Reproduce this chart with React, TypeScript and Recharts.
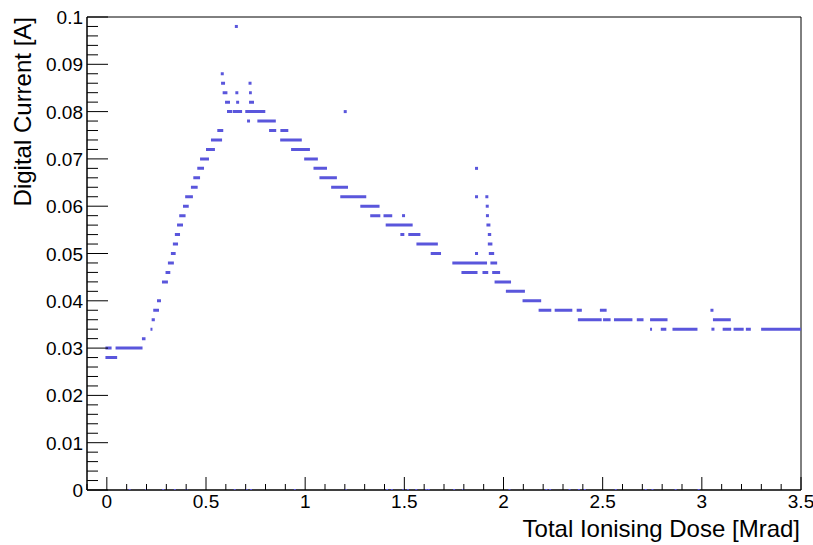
import { ComposedChart, Line, ReferenceArea, Scatter, XAxis, YAxis } from 'recharts'

// horizontal runs of equal readings: [dose from, dose to, current]
const runs: [number, number, number][] = [
  [-0.007, 0.052, 0.028],
  [-0.007, 0.024, 0.03], [0.044, 0.18, 0.03],
  [0.177, 0.195, 0.032],
  [0.22, 0.23, 0.034],
  [0.226, 0.242, 0.036],
  [0.234, 0.263, 0.038],
  [0.253, 0.273, 0.04],
  [0.278, 0.308, 0.044],
  [0.296, 0.32, 0.046],
  [0.308, 0.338, 0.048],
  [0.323, 0.347, 0.05],
  [0.333, 0.359, 0.052],
  [0.343, 0.369, 0.054],
  [0.354, 0.384, 0.056],
  [0.365, 0.397, 0.058],
  [0.384, 0.413, 0.06],
  [0.395, 0.434, 0.062],
  [0.424, 0.458, 0.064],
  [0.436, 0.47, 0.066],
  [0.456, 0.49, 0.068],
  [0.47, 0.515, 0.07],
  [0.5, 0.545, 0.072],
  [0.525, 0.581, 0.074],
  [0.557, 0.587, 0.076],
  [0.576, 0.596, 0.086],
  [0.584, 0.608, 0.084],
  [0.596, 0.621, 0.082],
  [0.606, 0.633, 0.08], [0.636, 0.682, 0.08],
  [0.648, 0.663, 0.084],
  [0.652, 0.667, 0.082],
  [0.698, 0.799, 0.08],
  [0.707, 0.722, 0.078],
  [0.717, 0.742, 0.082],
  [0.717, 0.731, 0.084],
  [0.759, 0.852, 0.078],
  [0.818, 0.854, 0.076], [0.875, 0.915, 0.076],
  [0.874, 0.983, 0.074],
  [0.929, 1.024, 0.072],
  [0.995, 1.064, 0.07],
  [1.042, 1.11, 0.068],
  [1.072, 1.16, 0.066],
  [1.131, 1.216, 0.064],
  [1.177, 1.308, 0.062],
  [1.278, 1.375, 0.06],
  [1.328, 1.379, 0.058], [1.395, 1.439, 0.058],
  [1.406, 1.542, 0.056],
  [1.48, 1.5, 0.054], [1.52, 1.581, 0.054],
  [1.561, 1.669, 0.052],
  [1.633, 1.685, 0.05],
  [1.742, 1.917, 0.048],
  [1.788, 1.869, 0.046], [1.894, 1.923, 0.046],
  [1.914, 1.934, 0.056],
  [1.921, 1.938, 0.054],
  [1.921, 1.944, 0.052],
  [1.926, 1.953, 0.05],
  [1.934, 1.968, 0.048],
  [1.943, 1.983, 0.046],
  [1.955, 2.038, 0.044],
  [2.012, 2.108, 0.042],
  [2.096, 2.19, 0.04],
  [2.177, 2.241, 0.038], [2.258, 2.347, 0.038], [2.369, 2.395, 0.038], [2.486, 2.52, 0.038],
  [2.375, 2.495, 0.036], [2.502, 2.54, 0.036], [2.557, 2.65, 0.036], [2.672, 2.706, 0.036], [2.739, 2.827, 0.036],
  [2.739, 2.749, 0.034], [2.793, 2.821, 0.034], [2.852, 2.978, 0.034],
  [3.056, 3.146, 0.036],
  [3.105, 3.148, 0.034], [3.16, 3.211, 0.034], [3.222, 3.247, 0.034], [3.299, 3.5, 0.034],
]

// single stray readings: [dose, current]
const strays: [number, number][] = [
  [0.582, 0.088], [0.653, 0.098], [0.722, 0.086], [1.202, 0.08], [1.496, 0.058],
  [1.864, 0.068], [1.864, 0.062], [1.864, 0.05], [1.916, 0.062], [1.918, 0.06],
  [1.919, 0.058], [3.051, 0.038], [3.056, 0.034],
]

// doses where the current read zero
const zeroDoses = [
  0.115, 0.198, 0.284, 0.343, 0.401, 0.645, 0.704, 0.727, 0.948, 1.204, 1.413, 1.437,
  1.495, 1.518, 1.56, 1.611, 1.623, 1.751, 1.797, 2.03, 2.216, 2.235, 2.333, 2.38,
  2.41, 2.566, 2.717, 2.751, 2.868, 2.984,
]

const xMajor = [0, 0.5, 1, 1.5, 2, 2.5, 3, 3.5]
const xTicks = Array.from({ length: 37 }, (_, i) => +(-0.1 + i * 0.1).toFixed(1))
const yMajor = [0, 0.01, 0.02, 0.03, 0.04, 0.05, 0.06, 0.07, 0.08, 0.09, 0.1]
const yTicks = Array.from({ length: 51 }, (_, i) => +(i * 0.002).toFixed(3))

const MARK = '#5a56dc'
const FONT = '"Liberation Sans", Arial, Helvetica, sans-serif'

const runData = runs.flatMap(([a, b, y]) => [
  { x: a, y },
  { x: b, y },
  { x: b, y: null },
])
const strayData = strays.map(([x, y]) => ({ x, y }))
const zeroData = zeroDoses.map((x) => ({ x, y: 0 }))

const near = (v: number, list: number[]) => list.some((m) => Math.abs(m - v) < 1e-6)

function XTick({ x, y, payload }: any) {
  const major = near(payload.value, xMajor)
  return (
    <g>
      <line x1={x} x2={x} y1={y} y2={y - (major ? 13 : 6)} stroke="#000" />
      {major && (
        <text x={x} y={y + 18} textAnchor="middle" fontSize={19} fontFamily={FONT} fill="#000">
          {String(payload.value)}
        </text>
      )}
    </g>
  )
}

function YTick({ x, y, payload }: any) {
  const major = near(payload.value, yMajor)
  return (
    <g>
      <line x1={x} x2={x + (major ? 21 : 11)} y1={y} y2={y} stroke="#000" />
      {major && (
        <text x={x - 4} y={y + 7} textAnchor="end" fontSize={19} fontFamily={FONT} fill="#000">
          {String(payload.value)}
        </text>
      )}
    </g>
  )
}

const Dot = ({ cx, cy }: any) => <rect x={cx - 1.5} y={cy - 1.5} width={3} height={3} fill={MARK} />
const ZeroDot = ({ cx, cy }: any) => <rect x={cx - 1} y={cy - 1} width={2} height={2} fill={MARK} />

export default function App() {
  return (
    <div style={{ position: 'absolute', left: 0, top: 0, background: '#fff' }}>
      <ComposedChart
        width={813}
        height={545}
        margin={{ top: 17, right: 12, bottom: 25, left: 27 }}
        style={{ fontFamily: FONT }}
      >
        <XAxis
          dataKey="x"
          type="number"
          domain={[-0.1, 3.5]}
          ticks={xTicks}
          interval={0}
          allowDataOverflow
          height={30}
          tickSize={0}
          tickMargin={0}
          tickLine={false}
          axisLine={{ stroke: '#000' }}
          tick={<XTick />}
          label={{
            content: ({ viewBox }: any) => (
              <text
                x={viewBox.x + viewBox.width - 1}
                y={viewBox.y + 47}
                textAnchor="end"
                fontSize={24}
                fontFamily={FONT}
                fill="#000"
              >
                Total Ionising Dose [Mrad]
              </text>
            ),
          }}
        />
        <YAxis
          dataKey="y"
          type="number"
          domain={[0, 0.1]}
          ticks={yTicks}
          interval={0}
          allowDataOverflow
          width={60}
          tickSize={0}
          tickMargin={0}
          tickLine={false}
          axisLine={{ stroke: '#000' }}
          tick={<YTick />}
          label={{
            content: ({ viewBox }: any) => (
              <text
                x={viewBox.x + 4}
                y={viewBox.y}
                transform={`rotate(-90, ${viewBox.x + 4}, ${viewBox.y})`}
                textAnchor="end"
                fontSize={24}
                fontFamily={FONT}
                fill="#000"
              >
                Digital Current [A]
              </text>
            ),
          }}
        />
        <ReferenceArea x1={-0.1} x2={3.5} y1={0} y2={0.1} fill="none" stroke="#000" strokeWidth={1} />
        <Line
          data={runData}
          dataKey="y"
          stroke={MARK}
          strokeWidth={3}
          dot={false}
          connectNulls={false}
          isAnimationActive={false}
          legendType="none"
        />
        <Scatter data={strayData} dataKey="y" shape={<Dot />} isAnimationActive={false} legendType="none" />
        <Scatter data={zeroData} dataKey="y" shape={<ZeroDot />} isAnimationActive={false} legendType="none" />
      </ComposedChart>
    </div>
  )
}
